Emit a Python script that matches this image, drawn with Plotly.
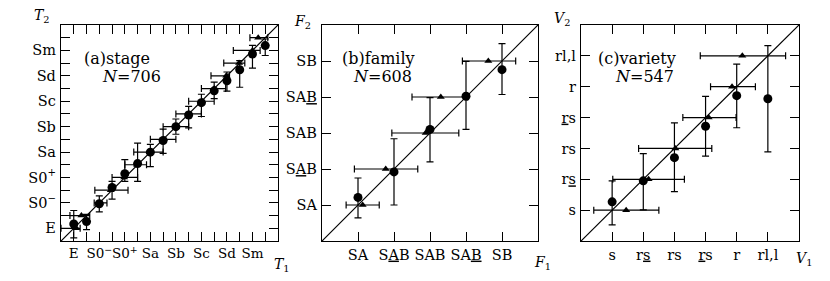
import plotly.graph_objects as go

# page body has an 8px margin: figure is drawn at (8, 8) in the 830x281 window
OX, OY = 8, 8
W, H = 830 - OX, 281 - OY

# ---------------- Panel (a): stage ----------------
stage_vals = list(range(-5, 11))
stage_label_vals = [-5, -3, -1, 1, 3, 5, 7, 9]
stage_ticktext = ["E", "S0<sup>−</sup>", "S0<sup>+</sup>", "Sa", "Sb", "Sc", "Sd", "Sm"]
stage_minor_vals = [-4, -2, 0, 2, 4, 6, 8, 10]
# circles: mean T2 at given T1 (vertical ranges)
stage_circ_y = [-4.66, -4.47, -3.07, -1.78, -0.70, 0.09, 0.99, 1.91, 3.00, 3.92,
                4.89, 5.82, 6.61, 7.48, 8.72, 9.38]
stage_circ_lo = [-5.75, -5.1, -3.7, -2.7, -1.3, -1.3, -0.15, 0.9, 2.4, 2.9,
                 3.8, 5.2, 5.8, 6.1, 7.6, 8.6]
stage_circ_hi = [-3.6, -3.9, -2.45, -1.3, 0.4, 1.7, 1.6, 2.8, 3.6, 4.6,
                 5.55, 6.5, 7.3, 8.2, 9.4, 9.9]
# triangles: mean T1 at given T2 (horizontal ranges)
stage_tri_x = [-4.8, -4.4, -2.95, -2.1, -1.05, -0.05, 0.95, 2.05, 3.0, 4.05,
               5.05, 6.0, 6.95, 7.95, 9.0, 9.45]
stage_tri_lo = [-6.0, -5.3, -3.4, -3.35, -2.0, -1.0, -0.3, 1.0, 2.0, 3.0,
                4.0, 5.0, 5.75, 6.75, 7.5, 8.8]
stage_tri_hi = [-4.5, -3.75, -2.4, -0.75, 0.0, 0.7, 2.0, 3.0, 4.0, 5.0,
                6.0, 6.9, 7.2, 8.4, 9.6, 10.2]

# ---------------- Panel (b): family ----------------
family_vals = [1, 2, 3, 4, 5]
family_ticktext = ["SA", "S<u>A</u>B", "SAB", "SA<u>B</u>", "SB"]
family_circ_y = [1.21, 1.92, 3.10, 4.02, 4.76]
family_circ_lo = [0.64, 1.00, 2.20, 3.10, 4.07]
family_circ_hi = [1.75, 2.84, 3.98, 4.99, 5.48]
family_tri_x = [1.13, 1.77, 2.88, 3.30, 4.62]
family_tri_lo = [0.67, 0.90, 1.94, 2.50, 3.90]
family_tri_hi = [1.59, 2.66, 3.80, 4.05, 5.38]

# ---------------- Panel (c): variety ----------------
variety_vals = [1, 2, 3, 4, 5, 6]
variety_ticktext = ["s", "r<u>s</u>", "rs", "<u>r</u>s", "r", "rl,l"]
variety_circ_y = [1.27, 1.95, 2.70, 3.72, 4.71, 4.61]
variety_circ_lo = [0.52, 1.01, 1.60, 2.75, 3.67, 2.89]
variety_circ_hi = [1.95, 2.83, 3.83, 4.69, 5.73, 6.33]
variety_tri_x = [1.45, 2.17, 3.03, 4.10, 4.85, 5.18]
variety_tri_lo = [0.41, 1.02, 1.85, 3.27, 4.16, 3.83]
variety_tri_hi = [2.50, 3.32, 4.20, 4.98, 5.60, 6.57]

FONT = "DejaVu Serif"

panels = [
    dict(vals=stage_vals, tvals=stage_label_vals, text=stage_ticktext, minor=stage_minor_vals,
         rng=[-6, 11], xfont=13.5,
         cy=stage_circ_y, clo=stage_circ_lo, chi=stage_circ_hi,
         tx=stage_tri_x, tlo=stage_tri_lo, thi=stage_tri_hi,
         px=(61, 278), label="(a)stage", n="<i>N</i>=706",
         lab_xy=(82, 58), n_xy=(100, 76),
         ytitle="<i>T</i><sub>2</sub>", xtitle="<i>T</i><sub>1</sub>",
         yt_xy=(42, 16), xt_xy=(282, 265)),
    dict(vals=family_vals, tvals=family_vals, text=family_ticktext, minor=None, rng=[0, 6],
         xfont=14.5,
         cy=family_circ_y, clo=family_circ_lo, chi=family_circ_hi,
         tx=family_tri_x, tlo=family_tri_lo, thi=family_tri_hi,
         px=(322, 538), label="(b)family", n="<i>N</i>=608",
         lab_xy=(340, 58), n_xy=(351, 76),
         ytitle="<i>F</i><sub>2</sub>", xtitle="<i>F</i><sub>1</sub>",
         yt_xy=(302, 22), xt_xy=(542, 263)),
    dict(vals=variety_vals, tvals=variety_vals, text=variety_ticktext, minor=None, rng=[0, 7],
         xfont=14.5,
         cy=variety_circ_y, clo=variety_circ_lo, chi=variety_circ_hi,
         tx=variety_tri_x, tlo=variety_tri_lo, thi=variety_tri_hi,
         px=(581, 799), label="(c)variety", n="<i>N</i>=547",
         lab_xy=(596, 58), n_xy=(613, 76),
         ytitle="<i>V</i><sub>2</sub>", xtitle="<i>V</i><sub>1</sub>",
         yt_xy=(562, 19), xt_xy=(804, 259)),
]

TOP, BOT = 25, 241


def fx(px):
    return (px - OX) / W


def fy(py):
    return 1 - (py - OY) / H


fig = go.Figure()
annotations = []
layout = {}

for i, p in enumerate(panels):
    k = "" if i == 0 else str(i + 1)
    xa, ya = "x" + k, "y" + k
    # diagonal line
    fig.add_trace(go.Scatter(x=p["rng"], y=p["rng"], mode="lines",
                             line=dict(color="black", width=1.2),
                             xaxis=xa, yaxis=ya, showlegend=False, hoverinfo="skip"))
    # circles with vertical ranges
    fig.add_trace(go.Scatter(
        x=p["vals"], y=p["cy"], mode="markers",
        marker=dict(symbol="circle", size=9, color="black"),
        error_y=dict(type="data", symmetric=False,
                     array=[h - y for h, y in zip(p["chi"], p["cy"])],
                     arrayminus=[y - l for l, y in zip(p["clo"], p["cy"])],
                     color="black", thickness=1.2, width=3.5),
        xaxis=xa, yaxis=ya, showlegend=False))
    # triangles with horizontal ranges
    fig.add_trace(go.Scatter(
        x=p["tx"], y=p["vals"], mode="markers",
        marker=dict(symbol="triangle-up", size=7, color="black"),
        error_x=dict(type="data", symmetric=False,
                     array=[h - x for h, x in zip(p["thi"], p["tx"])],
                     arrayminus=[x - l for l, x in zip(p["tlo"], p["tx"])],
                     color="black", thickness=1.2, width=3.5),
        xaxis=xa, yaxis=ya, showlegend=False))

    axis_common = dict(range=p["rng"], tickmode="array", tickvals=p["tvals"], ticktext=p["text"],
                       ticks="inside", ticklen=9, tickwidth=1.2, tickcolor="black",
                       showline=True, linecolor="black", linewidth=1.4, mirror="ticks",
                       showgrid=False, zeroline=False, fixedrange=True, tickangle=0,
                       tickfont=dict(family=FONT, size=14.5, color="black"))
    if p["minor"] is not None:
        axis_common["minor"] = dict(tickmode="array", tickvals=p["minor"], ticks="inside",
                                    ticklen=9, tickwidth=1.2, tickcolor="black", showgrid=False)
    layout["xaxis" + k] = dict(axis_common, domain=[fx(p["px"][0]), fx(p["px"][1])],
                               anchor=ya, ticklabelstandoff=0,
                               tickfont=dict(family=FONT, size=p["xfont"], color="black"))
    layout["yaxis" + k] = dict(axis_common, domain=[fy(BOT), fy(TOP)],
                               anchor=xa, ticklabelstandoff=1)

    for txt, (ax, ay), xanchor, size in [
        (p["label"], p["lab_xy"], "left", 16),
        (p["n"], p["n_xy"], "left", 16),
        (p["ytitle"], p["yt_xy"], "center", 14),
        (p["xtitle"], p["xt_xy"], "center", 14),
    ]:
        annotations.append(dict(text=txt, x=fx(ax), y=fy(ay), xref="paper", yref="paper",
                                xanchor=xanchor, yanchor="middle", showarrow=False,
                                font=dict(family=FONT, size=size, color="black")))

fig.update_layout(
    width=W, height=H,
    margin=dict(l=0, r=0, t=0, b=0),
    paper_bgcolor="white", plot_bgcolor="white",
    annotations=annotations,
    **layout,
)

fig.write_html("out.html")
